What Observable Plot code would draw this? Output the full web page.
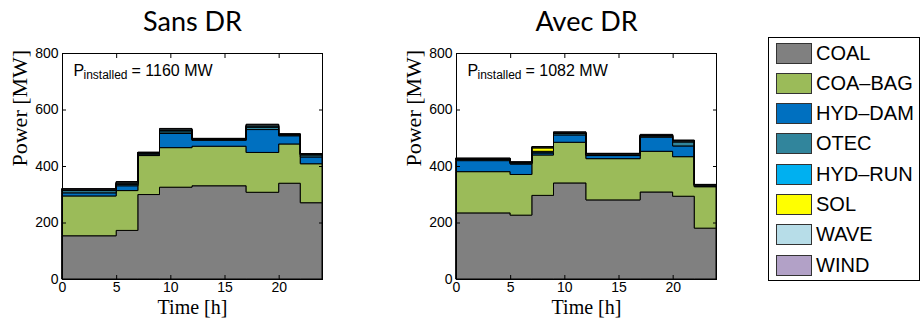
<!DOCTYPE html>
<html>
<head>
<meta charset="utf-8">
<script src="https://cdn.jsdelivr.net/npm/d3@7"></script>
<script src="https://cdn.jsdelivr.net/npm/@observablehq/plot@0.6"></script>
<style>
  html, body { margin: 0; padding: 0; background: #fff; }
  #wrap { position: relative; width: 923px; height: 321px; overflow: hidden; }
  .chart { position: absolute; top: 0; }
  #legend { position: absolute; left: 768px; top: 37px; width: 152px; height: 244px; border: 1px solid #000; box-sizing: border-box; background: #fff; }
  .row { position: absolute; left: 7px; height: 22px; display: flex; align-items: center; }
  .sw { width: 36px; height: 21px; border: 1px solid #333; box-sizing: border-box; margin-right: 4px; }
  .lab { font-family: "Liberation Sans", Arial, sans-serif; font-size: 20px; color: #000; white-space: nowrap; }
</style>
</head>
<body>
<div id="wrap">
  <div id="left" class="chart" style="left:0px"></div>
  <div id="right" class="chart" style="left:394px"></div>
  <div id="legend"></div>
</div>
<script>
// ---- data ----
const times = [0, 5, 7, 9, 12, 17, 20, 22, 24];
const types = ["COAL", "COA\u2013BAG", "HYD\u2013DAM", "OTEC", "HYD\u2013RUN", "SOL", "WAVE", "WIND"];
const colors = ["#808080", "#9BBB59", "#0070C0", "#31859C", "#00B0F0", "#FFFF00", "#B7DDE8", "#B2A1C7"];
const yTicks = [0, 200, 400, 600, 800];
const xTicks = [0, 5, 10, 15, 20];
const titles = ["Sans DR", "Avec DR"];
const installed = ["1160 MW", "1082 MW"];

// Sans DR (per time segment)
const sansCOAL   = [153, 172, 299, 325, 330, 307, 339, 270];
const sansCOABAG = [141, 141, 138, 140, 140, 141, 139, 138];
const sansHYDDAM = [11, 17, 3, 50, 21, 81, 29, 24];
const sansOTEC   = [8, 5, 5, 6, 3, 8, 3, 7];
const sansHYDRUN = [3, 4, 2, 6, 2, 5, 2, 2];
const sansSOL    = [0, 0, 0, 0, 0, 0, 0, 0];
const sansWAVE   = [2, 4, 1, 4, 1, 4, 1, 2];
const sansWIND   = [2, 2, 1, 2, 1, 2, 1, 1];

// Avec DR
const avecCOAL   = [234, 226, 296, 340, 280, 308, 293, 180];
const avecCOABAG = [146, 144, 143, 144, 146, 144, 140, 147];
const avecHYDDAM = [39, 37, 7, 26, 11, 50, 38, 0];
const avecOTEC   = [4, 3, 3, 5, 3, 4, 14, 3];
const avecHYDRUN = [2, 2, 3, 2, 2, 2, 3, 2];
const avecSOL    = [0, 0, 12, 0, 0, 0, 0, 0];
const avecWAVE   = [2, 2, 3, 2, 2, 2, 2, 2];
const avecWIND   = [1, 1, 2, 2, 1, 2, 2, 1];

const sansSeries = [sansCOAL, sansCOABAG, sansHYDDAM, sansOTEC, sansHYDRUN, sansSOL, sansWAVE, sansWIND];
const avecSeries = [avecCOAL, avecCOABAG, avecHYDDAM, avecOTEC, avecHYDRUN, avecSOL, avecWAVE, avecWIND];

function toRows(series) {
  const rows = [];
  types.forEach((type, k) => {
    times.forEach((t, i) => {
      rows.push({t, v: series[k][Math.min(i, series[k].length - 1)], type});
    });
  });
  return rows;
}

function chart(title, inst, series) {
  const data = toRows(series);
  return Plot.plot({
    width: 340, height: 321,
    marginLeft: 62, marginRight: 18, marginTop: 53, marginBottom: 42,
    style: {fontFamily: "'Liberation Sans', Arial, sans-serif", fontSize: "14px", color: "#000", background: "transparent", overflow: "visible"},
    x: {domain: [0, 24]},
    y: {domain: [0, 800]},
    color: {domain: types, range: colors},
    marks: [
      Plot.areaY(data, {x: "t", y: "v", z: "type", fill: "type", stroke: "#000", strokeWidth: 1, curve: "step-after", order: types}),
      Plot.frame({stroke: "#000", strokeWidth: 1}),
      // tick labels
      Plot.axisY({ticks: yTicks, anchor: "left", tickSize: 0, tickPadding: 4, label: null, fontSize: 14}),
      Plot.axisX({ticks: xTicks, anchor: "bottom", tickSize: 0, tickPadding: 3, label: null, fontSize: 14}),
      // inward ticks on all four sides
      Plot.axisY({ticks: yTicks, anchor: "left", tickSize: 4, dx: 4, tickFormat: () => "", label: null}),
      Plot.axisY({ticks: yTicks, anchor: "right", tickSize: 4, dx: -4, tickFormat: () => "", label: null}),
      Plot.axisX({ticks: xTicks, anchor: "bottom", tickSize: 4, dy: -4, tickFormat: () => "", label: null}),
      Plot.axisX({ticks: xTicks, anchor: "top", tickSize: 4, dy: 4, tickFormat: () => "", label: null}),
      // axis titles
      Plot.text(["Power [MW]"], {frameAnchor: "left", dx: -43, rotate: -90, fontFamily: "'Liberation Serif', 'DejaVu Serif', serif", fontSize: 22, fill: "#000"}),
      Plot.text(["Time [h]"], {frameAnchor: "bottom", dy: 34, fontFamily: "'Liberation Serif', 'DejaVu Serif', serif", fontSize: 20, fill: "#000"}),
      // chart title
      Plot.text([title], {frameAnchor: "top", dy: -42, fontFamily: "Lato, 'Open Sans', sans-serif", fontSize: 27, fill: "#000"}),
      // installed power annotation
      Plot.text(["P"], {frameAnchor: "top-left", dx: 11, dy: 11, textAnchor: "start", fontSize: 16, fill: "#000"}),
      Plot.text(["installed"], {frameAnchor: "top-left", dx: 21, dy: 17, textAnchor: "start", fontSize: 12, fill: "#000"}),
      Plot.text(["= " + inst], {frameAnchor: "top-left", dx: 69, dy: 11, textAnchor: "start", fontSize: 16, fill: "#000"})
    ]
  });
}

document.getElementById("left").appendChild(chart(titles[0], installed[0], sansSeries));
document.getElementById("right").appendChild(chart(titles[1], installed[1], avecSeries));

// legend
const legend = document.getElementById("legend");
types.forEach((type, i) => {
  const row = document.createElement("div");
  row.className = "row";
  row.style.top = (4 + i * 30.3) + "px";
  const sw = document.createElement("div");
  sw.className = "sw";
  sw.style.background = colors[i];
  const lab = document.createElement("span");
  lab.className = "lab";
  lab.textContent = type;
  row.appendChild(sw);
  row.appendChild(lab);
  legend.appendChild(row);
});
</script>
</body>
</html>
